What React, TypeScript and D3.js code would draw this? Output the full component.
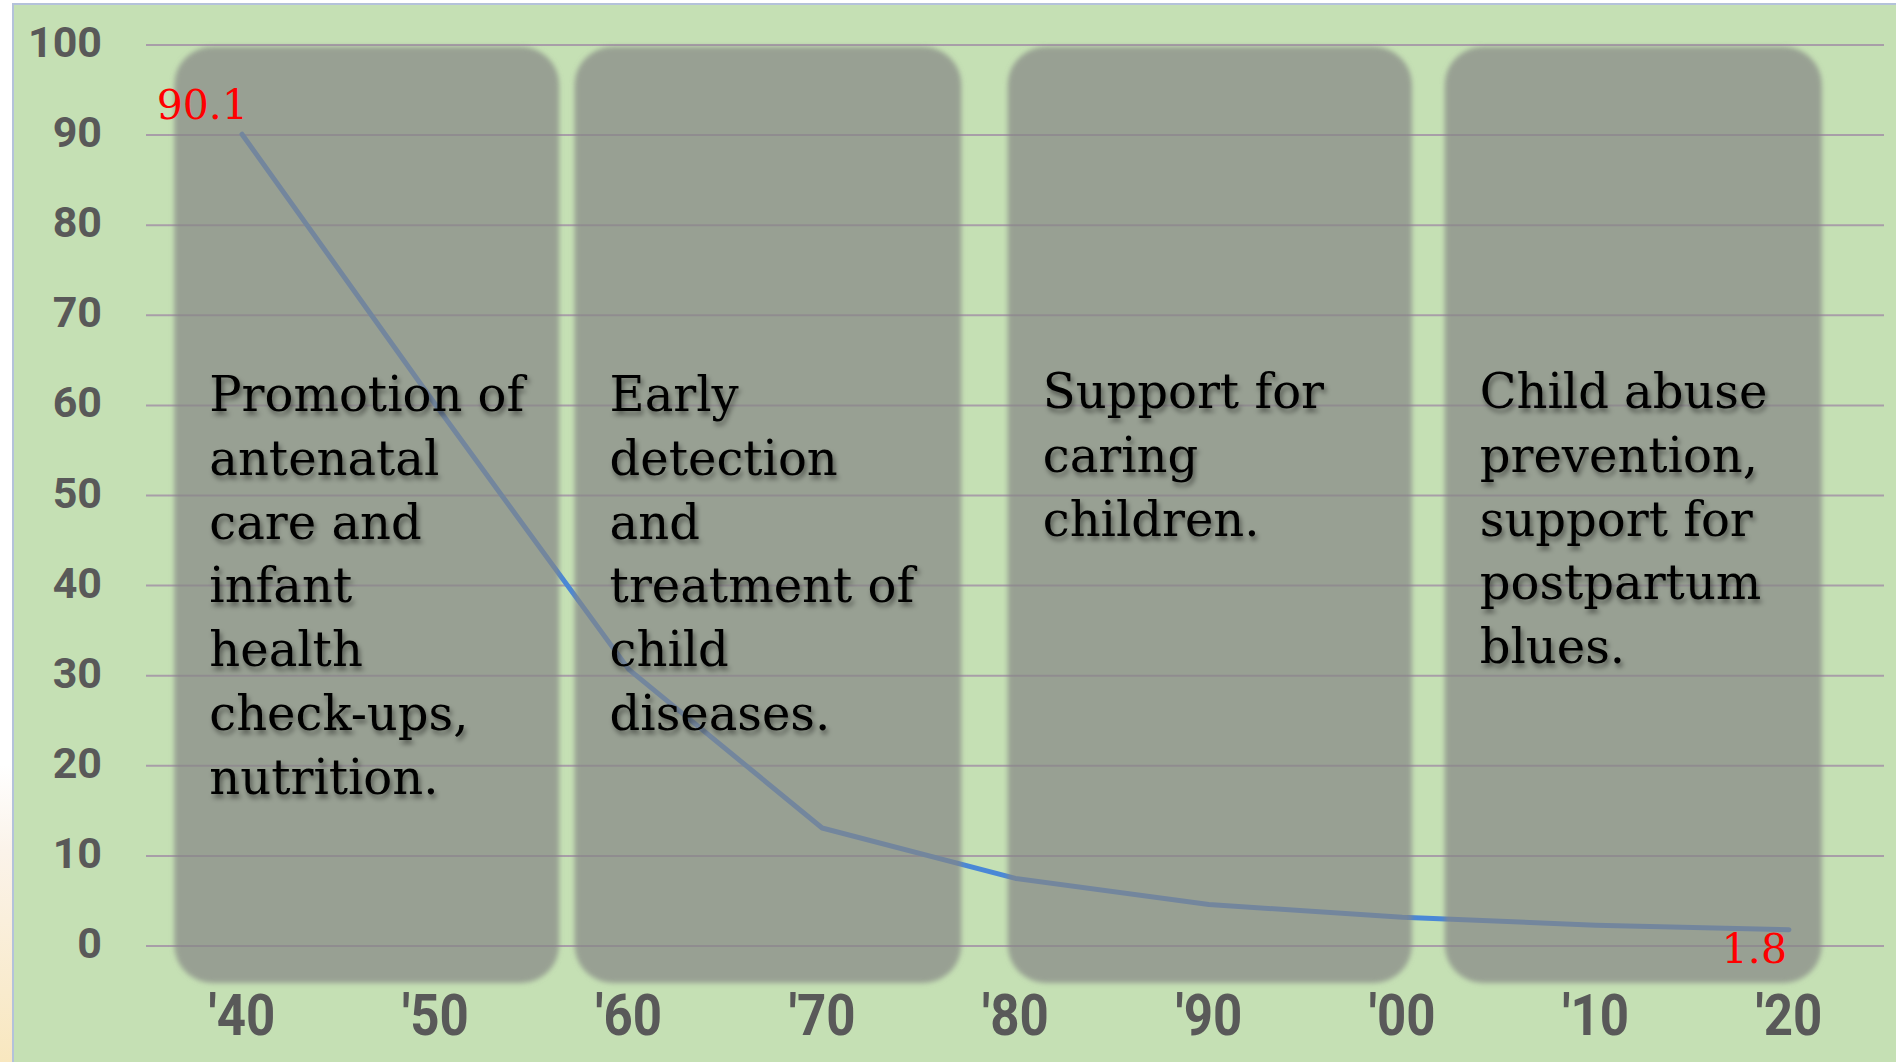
import React from "react";
import * as d3 from "d3";

const years = [1940, 1950, 1960, 1970, 1980, 1990, 2000, 2010, 2020];
const rates = [90.1, 60.1, 30.7, 13.1, 7.5, 4.6, 3.2, 2.3, 1.8];
const xTickLabels = ["'40", "'50", "'60", "'70", "'80", "'90", "'00", "'10", "'20"];
const yTicks = [0, 10, 20, 30, 40, 50, 60, 70, 80, 90, 100];
const eraStarts = [1936.5, 1957.2, 1979.6, 2002.2];
const eraEnds = [1956.4, 1977.2, 2000.5, 2021.7];
const eraTop = 99.8;
const eraBottom = -4.1;
const eraTexts = [
  ["Promotion of", "antenatal", "care and", "infant", "health", "check-ups,", "nutrition."],
  ["Early", "detection", "and", "treatment of", "child", "diseases."],
  ["Support for", "caring", "children."],
  ["Child abuse", "prevention,", "support for", "postpartum", "blues."],
];
const eraTextTop = [411, 411, 408, 408];

const W = 1896;
const H = 1062;

export default function App() {
  const x = d3.scaleLinear().domain([1940, 2020]).range([242, 1789]);
  const y = d3.scaleLinear().domain([0, 100]).range([946, 45]);
  const line = d3
    .line<number>()
    .x((_, i) => x(years[i]))
    .y((d) => y(d));
  const gridX0 = 146;
  const gridX1 = 1884;
  const axisFont = "Roboto, 'Noto Sans', sans-serif";
  const serif = "'DejaVu Serif', serif";
  const last = rates.length - 1;

  return (
    <svg
      width={W}
      height={H}
      style={{ position: "absolute", left: 0, top: 0, display: "block" }}
    >
      <defs>
        <linearGradient id="strip" x1="0" y1="0" x2="0" y2="1">
          <stop offset="0" stopColor="#ffffff" />
          <stop offset="0.72" stopColor="#ffffff" />
          <stop offset="0.8" stopColor="#fbf3ea" />
          <stop offset="1" stopColor="#f8e7bf" />
        </linearGradient>
        <filter id="soft" x="-5%" y="-5%" width="110%" height="110%">
          <feGaussianBlur stdDeviation="2.5" />
        </filter>
        <filter id="tshadow" x="-10%" y="-10%" width="120%" height="130%">
          <feDropShadow dx="2" dy="4" stdDeviation="2.5" floodColor="#000" floodOpacity="0.45" />
        </filter>
      </defs>
      <rect x={0} y={0} width={W} height={H} fill="url(#strip)" />
      <rect x={13} y={4} width={W} height={H} fill="#c5e0b4" stroke="#b4c2da" strokeWidth={2} />

      {/* gridlines */}
      {yTicks.map((t) => (
        <line key={t} x1={gridX0} x2={gridX1} y1={y(t)} y2={y(t)} stroke="#a89ea8" strokeWidth={2} />
      ))}

      {/* data line */}
      <path d={line(rates) || ""} fill="none" stroke="#4a88d6" strokeWidth={5} strokeLinejoin="round" strokeLinecap="round" />

      {/* era boxes */}
      {eraStarts.map((s, i) => (
        <rect
          key={i}
          x={x(s)}
          y={y(eraTop)}
          width={x(eraEnds[i]) - x(s)}
          height={y(eraBottom) - y(eraTop)}
          rx={38}
          ry={38}
          fill="#858585"
          fillOpacity={0.7}
          filter="url(#soft)"
        />
      ))}

      {/* era texts */}
      <g filter="url(#tshadow)">
        {eraTexts.map((lines, i) => (
          <text key={i} fontFamily={serif} fontSize={48} fill="#000">
            {lines.map((ln, j) => (
              <tspan key={j} x={x(eraStarts[i]) + 35} y={eraTextTop[i] + j * 63.8}>
                {ln}
              </tspan>
            ))}
          </text>
        ))}
      </g>

      {/* data labels */}
      <text x={x(years[0]) + 6} y={y(rates[0]) - 15} textAnchor="end" fontFamily={serif} fontSize={41} fill="#ff0000">
        {rates[0].toFixed(1)}
      </text>
      <text x={x(years[last]) - 2} y={y(rates[last]) + 33} textAnchor="end" fontFamily={serif} fontSize={41} fill="#ff0000">
        {rates[last].toFixed(1)}
      </text>

      {/* y axis labels */}
      {yTicks.map((t) => (
        <text key={t} x={102} y={y(t) + 12} textAnchor="end" fontFamily={axisFont} fontWeight={700} fontSize={43} fill="#595959">
          {t}
        </text>
      ))}

      {/* x axis labels */}
      {years.map((yr, i) => (
        <text
          key={yr}
          x={0}
          y={0}
          textAnchor="middle"
          fontFamily={axisFont}
          fontWeight={700}
          fontSize={58}
          fill="#595959"
          transform={`translate(${x(yr)},1035) scale(0.88,1)`}
        >
          {xTickLabels[i]}
        </text>
      ))}
    </svg>
  );
}
